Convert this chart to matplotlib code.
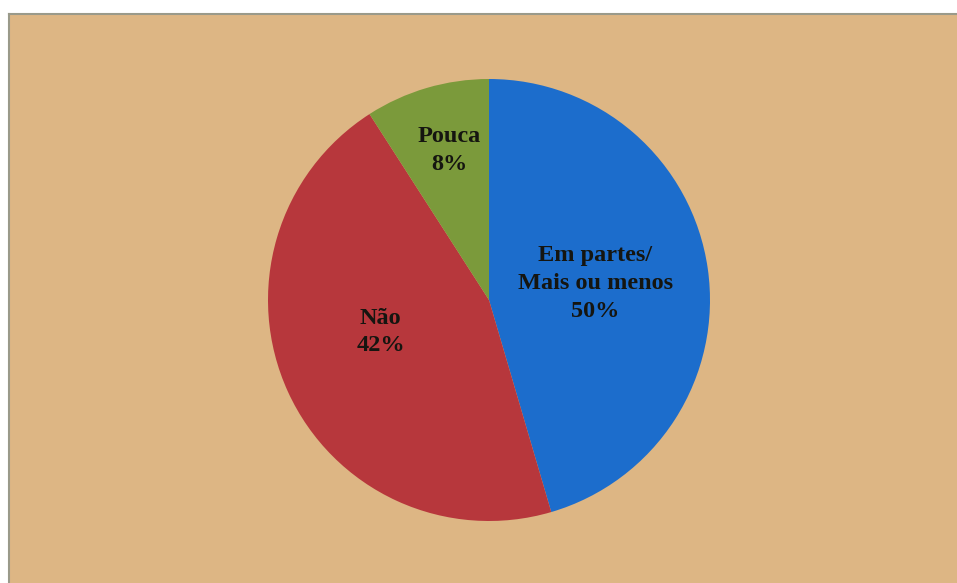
import matplotlib.pyplot as plt

# fatias (proporções como desenhadas) e rótulos
categorias = ["Em partes/\nMais ou menos", "Não", "Pouca"]
valores = [5, 5, 1]
percentuais = ["50%", "42%", "8%"]
cores = ["#1c6dcc", "#b7373c", "#7b9a3b"]

# posição dos rótulos (em raios, relativo ao centro)
pos_rotulos = [(0.48, 0.075), (-0.49, -0.145), (-0.18, 0.675)]

plt.rcParams['font.family'] = ['Liberation Serif', 'DejaVu Serif']

fig = plt.figure(figsize=(9.57, 5.83), dpi=100)
fig.patch.set_facecolor('white')

# fundo do gráfico (área do papel), vai até as bordas direita/inferior
W, H = 957, 583
bg = fig.add_axes([9 / W, -0.01, 1.01 - 9 / W, (H - 14) / H + 0.01])
bg.set_facecolor('#ddb684')
bg.set_xticks([])
bg.set_yticks([])
for s in bg.spines.values():
    s.set_color('#9a9a8a')
    s.set_linewidth(1.5)

cx, cy, r = 489, 300, 221
ax = fig.add_axes([(cx - r) / W, (H - cy - r) / H, 2 * r / W, 2 * r / H])
ax.set_zorder(2)
ax.pie(valores, colors=cores, startangle=90, counterclock=False, radius=1,
       wedgeprops=dict(edgecolor='none'))
ax.set_xlim(-1, 1)
ax.set_ylim(-1, 1)
ax.set_aspect('equal')
ax.axis('off')

for cat, pct, (x, y) in zip(categorias, percentuais, pos_rotulos):
    ax.text(x, y, cat + "\n" + pct, ha='center', va='center', fontsize=17.5,
            fontweight='bold', color='#151510', linespacing=1.42)

fig.savefig('out.png', dpi=100)
